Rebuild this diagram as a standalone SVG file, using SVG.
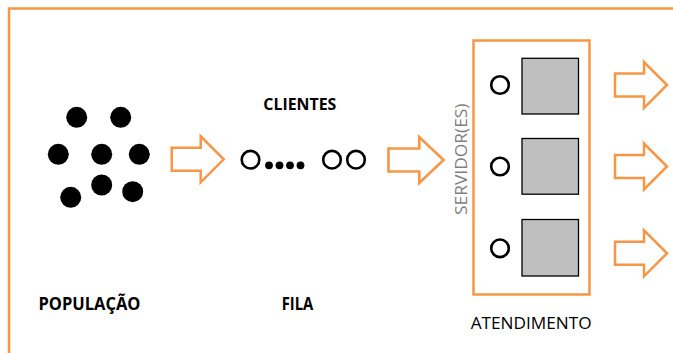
<svg xmlns="http://www.w3.org/2000/svg" width="673" height="353" viewBox="0 0 673 353">
  <defs>
    <style>
      .frame { fill: none; stroke: #F79646; stroke-width: 2.5; }
      .arrow { fill: #FFFFFF; stroke: #F79646; stroke-width: 2.5; stroke-linejoin: miter; }
      .dot { fill: #000000; }
      .ring { fill: none; stroke: #000000; stroke-width: 2.6; }
      .server { fill: #BFBFBF; stroke: #000000; stroke-width: 1.3; }
      .label { font-family: "Open Sans", "Liberation Sans", sans-serif; font-weight: bold; fill: #000000; }
      .plain { font-family: "Open Sans", "Liberation Sans", sans-serif; font-size: 17px; fill: #000000; }
      .side { font-family: "Open Sans", "Liberation Sans", sans-serif; font-size: 16px; fill: #7F7F7F; }
    </style>
    <!-- block arrow pointing right, 0..52 wide, centred on y=0 -->
    <path id="blockArrow" d="M0,-11.5 H29 V-23 L52,0 L29,23 V11.5 H0 Z"/>
  </defs>

  <rect width="673" height="353" fill="#FFFFFF"/>

  <!-- outer frame running off the right and bottom edges -->
  <rect class="frame" x="9" y="8.5" width="700" height="400"/>

  <g id="populacao">
    <circle class="dot" cx="76.7" cy="117.3" r="10.5"/>
    <circle class="dot" cx="120.7" cy="117.3" r="10.5"/>
    <circle class="dot" cx="58.3" cy="154.3" r="10.5"/>
    <circle class="dot" cx="101.7" cy="154.3" r="10.5"/>
    <circle class="dot" cx="139.3" cy="154.3" r="10.5"/>
    <circle class="dot" cx="101.7" cy="185" r="10.5"/>
    <circle class="dot" cx="132.7" cy="191.7" r="10.5"/>
    <circle class="dot" cx="70.7" cy="197.3" r="10.5"/>
    <text class="label" x="38.5" y="309.5" font-size="17" textLength="102" lengthAdjust="spacingAndGlyphs">POPULAÇÃO</text>
  </g>

  <g id="fila">
    <text class="label" x="263.3" y="110.3" font-size="15.5" textLength="73" lengthAdjust="spacingAndGlyphs">CLIENTES</text>
    <circle class="ring" cx="250.5" cy="159.7" r="8.8"/>
    <circle class="dot" cx="269" cy="165.3" r="3.9"/>
    <circle class="dot" cx="279.5" cy="165.3" r="3.9"/>
    <circle class="dot" cx="290" cy="165.3" r="3.9"/>
    <circle class="dot" cx="300.5" cy="165.3" r="3.9"/>
    <circle class="ring" cx="332" cy="159.7" r="8.8"/>
    <circle class="ring" cx="356" cy="159.7" r="8.8"/>
    <text class="label" x="281.7" y="309.5" font-size="17" textLength="31.6" lengthAdjust="spacingAndGlyphs">FILA</text>
  </g>

  <g id="atendimento">
    <rect class="frame" x="473.5" y="40.5" width="116" height="254"/>
    <text class="side" transform="translate(467,215) rotate(-90)" textLength="111.5" lengthAdjust="spacingAndGlyphs">SERVIDOR(ES)</text>
    <circle class="ring" cx="500" cy="85" r="8.8"/>
    <rect class="server" x="522" y="58.3" width="56.5" height="55.7"/>
    <circle class="ring" cx="500" cy="166.5" r="8.8"/>
    <rect class="server" x="522" y="138.5" width="56.5" height="55.7"/>
    <circle class="ring" cx="500" cy="248.3" r="8.8"/>
    <rect class="server" x="522" y="219.5" width="56.5" height="56.5"/>
    <text class="plain" x="470.7" y="329" textLength="121" lengthAdjust="spacingAndGlyphs">ATENDIMENTO</text>
  </g>

  <g id="connectors">
    <use href="#blockArrow" class="arrow" transform="translate(171.7,159.3)"/>
    <use href="#blockArrow" class="arrow" transform="translate(388.5,160) scale(1.06,1)"/>
    <use href="#blockArrow" class="arrow" transform="translate(615,85)"/>
    <use href="#blockArrow" class="arrow" transform="translate(615,166.5)"/>
    <use href="#blockArrow" class="arrow" transform="translate(615,253.3)"/>
  </g>
</svg>
